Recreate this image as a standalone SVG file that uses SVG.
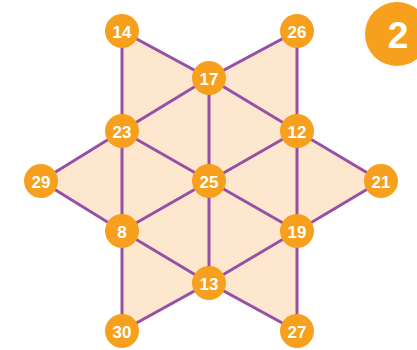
<svg xmlns="http://www.w3.org/2000/svg" width="417" height="350" viewBox="0 0 417 350">
<style>
.e{stroke:#9650a5;stroke-width:3;fill:none;stroke-linecap:round}
.n circle{fill:#f6a01e}
.n text{fill:#fff;font-family:"Liberation Sans",Arial,sans-serif;font-weight:bold;font-size:17px;text-anchor:middle;dominant-baseline:central}
</style>
<rect width="417" height="350" fill="#fff"/>
<polygon points="122,31 209,78 297,31 297,131 381,181 297,231 297,331 209,283 122,331 122,231 41,181 122,131" fill="#fde7cf"/>
<g id="connectors" class="e">
<polyline points="122,31 209,78 297,31 297,131 381,181 297,231 297,331 209,283 122,331 122,231 41,181 122,131 122,31"/>
<polyline points="122,131 209,78 297,131 297,231 209,283 122,231 122,131"/>
<line x1="209" y1="78" x2="209" y2="283"/>
<line x1="122" y1="131" x2="297" y2="231"/>
<line x1="297" y1="131" x2="122" y2="231"/>
</g>
<g id="n14" class="n"><circle cx="122" cy="31" r="17"/><text x="122" y="32">14</text></g>
<g id="n26" class="n"><circle cx="297" cy="31" r="17"/><text x="297" y="32">26</text></g>
<g id="n17" class="n"><circle cx="209" cy="78" r="17"/><text x="209" y="79">17</text></g>
<g id="n23" class="n"><circle cx="122" cy="131" r="17"/><text x="122" y="132">23</text></g>
<g id="n12" class="n"><circle cx="297" cy="131" r="17"/><text x="297" y="132">12</text></g>
<g id="n29" class="n"><circle cx="41" cy="181" r="17"/><text x="41" y="182">29</text></g>
<g id="n25" class="n"><circle cx="209" cy="181" r="17"/><text x="209" y="182">25</text></g>
<g id="n21" class="n"><circle cx="381" cy="181" r="17"/><text x="381" y="182">21</text></g>
<g id="n8" class="n"><circle cx="122" cy="231" r="17"/><text x="122" y="232">8</text></g>
<g id="n19" class="n"><circle cx="297" cy="231" r="17"/><text x="297" y="232">19</text></g>
<g id="n13" class="n"><circle cx="209" cy="283" r="17"/><text x="209" y="284">13</text></g>
<g id="n30" class="n"><circle cx="122" cy="331" r="17"/><text x="122" y="332">30</text></g>
<g id="n27" class="n"><circle cx="297" cy="331" r="17"/><text x="297" y="332">27</text></g>
<g id="badge"><circle cx="397" cy="34" r="32" fill="#f6a01e"/><text x="398" y="35" fill="#fff" font-family="Liberation Sans,Arial,sans-serif" font-weight="bold" font-size="37" text-anchor="middle" dominant-baseline="central">2</text></g>
</svg>
